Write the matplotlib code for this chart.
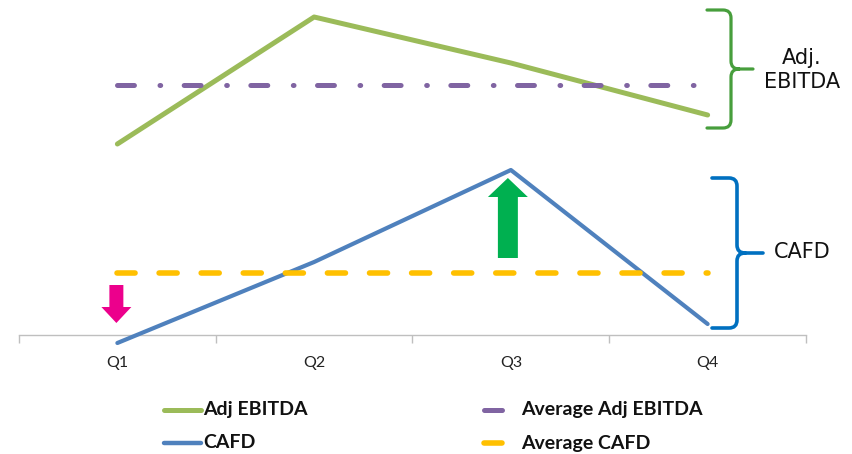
import matplotlib
matplotlib.use("Agg")
import matplotlib.pyplot as plt
from matplotlib.path import Path
from matplotlib.patches import PathPatch, Polygon
from matplotlib.lines import Line2D

# ---- data ----
quarters = ["Q1", "Q2", "Q3", "Q4"]
adj_ebitda = [191, 318, 272, 220]
cafd = [-8, 73, 165, 11]
avg_adj_ebitda = [250, 250, 250, 250]
avg_cafd = [62, 62, 62, 62]
legend_labels = ["Adj EBITDA", "Average Adj EBITDA", "CAFD", "Average CAFD"]

C_GREEN = "#9BBB59"
C_BLUE = "#4F81BD"
C_PURPLE = "#8064A2"
C_YELLOW = "#FFC000"
C_PINK = "#EC008C"
C_ARROW_GREEN = "#00B050"
C_BR_GREEN = "#479E3C"
C_BR_BLUE = "#0070C0"

plt.rcParams["lines.scale_dashes"] = False

W, H = 853, 454
fig = plt.figure(figsize=(W / 100, H / 100), dpi=100)

# main axes: x from px 19 to 806, y from px 335 (bottom) to 0 (top)
ax = fig.add_axes([19 / W, (H - 335) / H, (806 - 19) / W, 335 / H])
x = list(range(len(quarters)))
ax.set_xlim(-0.5, len(quarters) - 0.5)
ax.set_ylim(0, 335)

ax.plot(x, adj_ebitda, color=C_GREEN, lw=3.6, solid_capstyle="round",
        solid_joinstyle="round", clip_on=False, zorder=3)
ax.plot(x, cafd, color=C_BLUE, lw=3.0, solid_capstyle="round",
        solid_joinstyle="round", clip_on=False, zorder=3)
ax.plot(x, avg_adj_ebitda, color=C_PURPLE, lw=3.6, dash_capstyle="round",
        linestyle=(0, (12.2, 18.4, 0.5, 16.9)), clip_on=False, zorder=4)
ax.plot(x, avg_cafd, color=C_YELLOW, lw=4.0, dash_capstyle="round",
        linestyle=(0, (13.0, 17.3)), clip_on=False, zorder=4)

# arrows (data coordinates; x in category units, y in value units)
px = 197.0  # pixels per category
def arrow(xc, y0, y_base, y_tip, shaft_px, head_px, color):
    s = shaft_px / 2 / px
    h = head_px / 2 / px
    pts = [(xc - s, y0), (xc + s, y0), (xc + s, y_base), (xc + h, y_base),
           (xc, y_tip), (xc - h, y_base), (xc - s, y_base)]
    ax.add_patch(Polygon(pts, closed=True, color=color, lw=0, zorder=5, clip_on=False))

arrow(0 - 1 / px, 50, 28, 12, 14, 30, C_PINK)
arrow(2 - 3 / px, 77, 138, 157, 20, 40, C_ARROW_GREEN)

# axis styling
for s in ["top", "left", "right"]:
    ax.spines[s].set_visible(False)
ax.spines["bottom"].set_color("#BFBFBF")
ax.spines["bottom"].set_linewidth(1.0)
ax.set_yticks([])
ax.set_xticks([i - 0.5 for i in range(len(quarters) + 1)])
ax.set_xticklabels([])
ax.set_xticks(x, minor=True)
ax.set_xticklabels(quarters, minor=True, fontsize=11.5, family="Lato", color="#222222")
ax.tick_params(axis="x", which="major", length=6, width=1.0, color="#BFBFBF", direction="out")
ax.tick_params(axis="x", which="minor", length=0, pad=15)
ax.patch.set_alpha(0)

# overlay in pixel coordinates for braces, labels and legend
ov = fig.add_axes([0, 0, 1, 1], zorder=-1)
ov.set_xlim(0, W)
ov.set_ylim(H, 0)
ov.axis("off")

def draw_brace(xl, xv, xt, ytop, ymid, ybot, color, lw, r=8):
    verts = [(xl, ytop), (xv - r, ytop), (xv, ytop), (xv, ytop + r),
             (xv, ymid - r), (xv, ymid), (xv + r, ymid), (xt, ymid),
             (xv + r, ymid), (xv, ymid), (xv, ymid + r),
             (xv, ybot - r), (xv, ybot), (xv - r, ybot), (xl, ybot)]
    codes = [Path.MOVETO, Path.LINETO, Path.CURVE3, Path.CURVE3,
             Path.LINETO, Path.CURVE3, Path.CURVE3, Path.LINETO,
             Path.MOVETO, Path.CURVE3, Path.CURVE3,
             Path.LINETO, Path.CURVE3, Path.CURVE3, Path.LINETO]
    ov.add_patch(PathPatch(Path(verts, codes), fill=False, edgecolor=color,
                           lw=lw, capstyle="round", joinstyle="round"))

draw_brace(707, 731, 753, 10, 69, 128, C_BR_GREEN, 2.3)
draw_brace(712, 737, 763, 178, 253, 328, C_BR_BLUE, 2.6)

ov.text(802, 70, "Adj.\nEBITDA", ha="center", va="center", fontsize=15,
        family="DejaVu Sans", color="#111111", linespacing=1.2)
ov.text(802, 252, "CAFD", ha="center", va="center", fontsize=15,
        family="DejaVu Sans", color="#111111")

# legend (manual)
leg_items = [
    (legend_labels[0], C_GREEN, 164, 201, 410, 3.6, 203),
    (legend_labels[1], C_PURPLE, 484, 502, 410, 3.6, 521),
    (legend_labels[2], C_BLUE, 164, 201, 443, 3.2, 203),
    (legend_labels[3], C_YELLOW, 484, 502, 443, 4.0, 521),
]
for lab, col, x0, x1, yy, lw, tx in leg_items:
    ov.add_line(Line2D([x0, x1], [yy, yy], color=col, lw=lw, solid_capstyle="round"))
    ov.text(tx, yy, lab, ha="left", va="center", fontsize=14, fontweight="bold",
            family="Lato", color="#111111")

fig.savefig("out.png", dpi=100)
